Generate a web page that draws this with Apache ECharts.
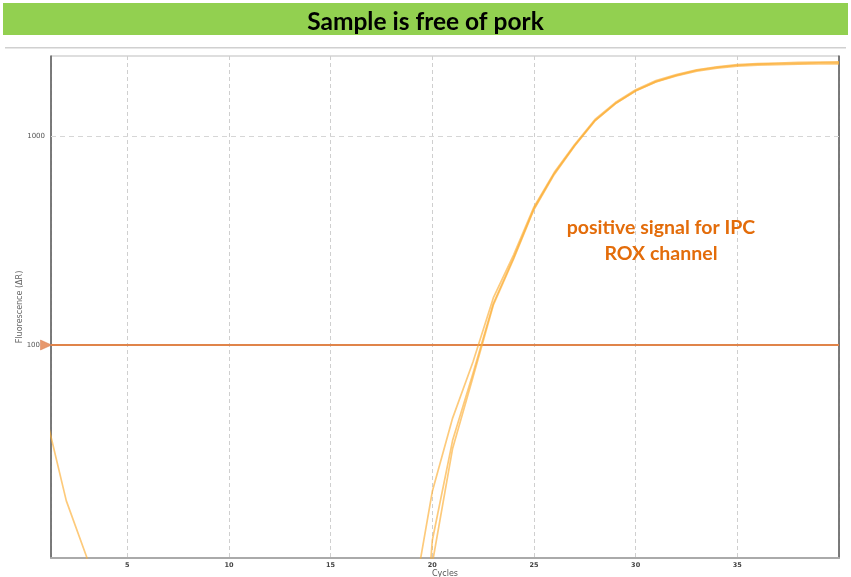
<!DOCTYPE html>
<html>
<head>
<meta charset="utf-8">
<script src="https://cdn.jsdelivr.net/npm/echarts@6/dist/echarts.min.js"></script>
<style>
html,body{margin:0;padding:0;background:#fff;}
#chart{width:851px;height:577px;}
</style>
</head>
<body>
<div id="chart"></div>
<script>
// ---- data ----
const cycles = [1,2,3,4,5,6,7,8,9,10,11,12,13,14,15,16,17,18,19,20,21,22,23,24,25,26,27,28,29,30,31,32,33,34,35,36,37,38,39,40];
const curveA = [46,18,9.7,2.5,1.8,1.5,1.4,1.6,1.3,1.5,1.4,1.2,1.5,1.3,1.4,1.6,1.8,2.4,5.5,19.9,44.7,83,168,270,458,670,910,1200,1445,1665,1840,1965,2075,2145,2195,2220,2235,2248,2258,2265];
const curveB = [1.2,1.1,1.0,0.9,1.0,0.8,0.9,1.0,0.9,0.8,0.9,1.0,0.8,0.9,0.8,0.7,0.6,0.5,0.6,11.6,35,73,158,262,450,662,900,1185,1430,1645,1815,1940,2045,2110,2160,2185,2195,2205,2210,2215];
const curveC = [1.0,1.1,0.9,1.0,0.9,1.0,0.8,0.9,1.0,0.9,0.8,0.9,1.0,0.9,0.8,0.9,1.0,1.1,1.2,9.0,32,70,155,258,445,655,895,1180,1425,1640,1820,1950,2060,2130,2180,2205,2218,2228,2236,2242];
const threshold = 100;
const gridValue = 1000;
const yTickLabels = [100, 1000];
const xTickLabels = [5, 10, 15, 20, 25, 30, 35];
const xMin = 1.25, xMax = 40, yMin = 9.57, yMax = 2414;

const titleText = 'Sample is free of pork';
const noteLines = ['positive signal for IPC', 'ROX channel'];

const chart = echarts.init(document.getElementById('chart'));
const curveColor = 'rgba(252,175,55,0.66)';

function mk(name, arr) {
  return {
    name: name,
    type: 'line',
    data: cycles.map((c, i) => [c, arr[i]]),
    showSymbol: false,
    symbol: 'none',
    smooth: false,
    clip: true,
    lineStyle: { color: curveColor, width: 1.7 },
    z: 3
  };
}

const series = [mk('A', curveA), mk('B', curveB), mk('C', curveC)];
series[0].markLine = {
  silent: true,
  symbol: ['none', 'none'],
  label: { show: false },
  data: [
    { yAxis: gridValue, lineStyle: { color: '#d6d6d6', type: [5, 4], width: 1 } },
    { yAxis: threshold, lineStyle: { color: '#E0844A', type: 'solid', width: 2 } }
  ],
  z: 2
};
series[0].markPoint = {
  silent: true,
  symbol: 'triangle',
  symbolSize: [10, 11],
  symbolRotate: -90,
  symbolOffset: [-5, 0],
  label: { show: false },
  itemStyle: { color: '#E7976C', borderColor: '#D9784A', borderWidth: 0.5 },
  data: [{ coord: [xMin, threshold] }]
};

chart.setOption({
  animation: false,
  backgroundColor: '#fff',
  title: {
    text: titleText,
    left: 'center',
    top: 5,
    textStyle: { fontFamily: 'Lato', fontWeight: 'bold', fontSize: 24.5, color: '#000' }
  },
  grid: { left: 51, right: 12, top: 56, bottom: 19, outerBoundsMode: 'none', containLabel: false, show: true, borderColor: '#bdbdbd', borderWidth: 1, backgroundColor: 'transparent' },
  xAxis: {
    type: 'value',
    min: xMin,
    max: xMax,
    splitNumber: 8,
    name: 'Cycles',
    nameLocation: 'middle',
    nameGap: 12,
    nameMoveOverlap: false,
    nameTextStyle: { fontFamily: 'DejaVu Sans', fontSize: 8, color: '#555', lineHeight: 8 },
    axisLine: { lineStyle: { color: '#aaaaaa', width: 2 } },
    axisTick: { show: false },
    axisLabel: {
      fontFamily: 'DejaVu Sans', fontSize: 6.5, color: '#444', fontWeight: 'bold', margin: 4,
      formatter: v => xTickLabels.indexOf(Math.round(v * 1000) / 1000) >= 0 ? String(v) : ''
    },
    splitLine: { show: true, lineStyle: { color: '#cfcfcf', type: [4, 3], width: 1 } }
  },
  yAxis: [{
    type: 'log',
    min: yMin,
    max: yMax,
    name: 'Fluorescence (ΔR)',
    nameLocation: 'middle',
    nameGap: 27,
    nameMoveOverlap: false,
    nameTextStyle: { fontFamily: 'DejaVu Sans', fontSize: 8, color: '#666' },
    axisLine: { show: true, lineStyle: { color: '#5a5a5a', width: 1.5 } },
    axisTick: { show: false },
    axisLabel: {
      fontFamily: 'DejaVu Sans', fontSize: 7, color: '#555', margin: 6,
      formatter: v => {
        const r = Math.round(v);
        if (Math.abs(v - r) > 0.01 || yTickLabels.indexOf(r) < 0) return '';
        return r === threshold ? '{t|' + r + '}' : '{g|' + r + '}';
      },
      rich: {
        t: { fontFamily: 'DejaVu Sans', fontSize: 7, color: '#555', padding: [0, 5, 0, 0] },
        g: { fontFamily: 'DejaVu Sans', fontSize: 7, color: '#555' }
      }
    },
    splitLine: { show: false }
  }, {
    type: 'log',
    min: yMin,
    max: yMax,
    position: 'right',
    axisLine: { show: true, lineStyle: { color: '#5a5a5a', width: 1.5 } },
    axisTick: { show: false },
    axisLabel: { show: false },
    splitLine: { show: false }
  }],
  series: series,
  graphic: [
    { type: 'rect', shape: { x: 3, y: 3, width: 845, height: 32 }, style: { fill: '#92D050' }, z: -10, silent: true },
    { type: 'rect', shape: { x: 5, y: 47, width: 841, height: 1.5 }, style: { fill: '#d0d0d0' }, z: -10, silent: true },
    { type: 'text', x: 661, y: 228, style: { text: noteLines[0], fill: '#E36C0A', font: 'bold 19.5px Lato', align: 'center', verticalAlign: 'middle' }, z: 10 },
    { type: 'text', x: 661, y: 254, style: { text: noteLines[1], fill: '#E36C0A', font: 'bold 19.5px Lato', align: 'center', verticalAlign: 'middle' }, z: 10 }
  ]
});
</script>
</body>
</html>
